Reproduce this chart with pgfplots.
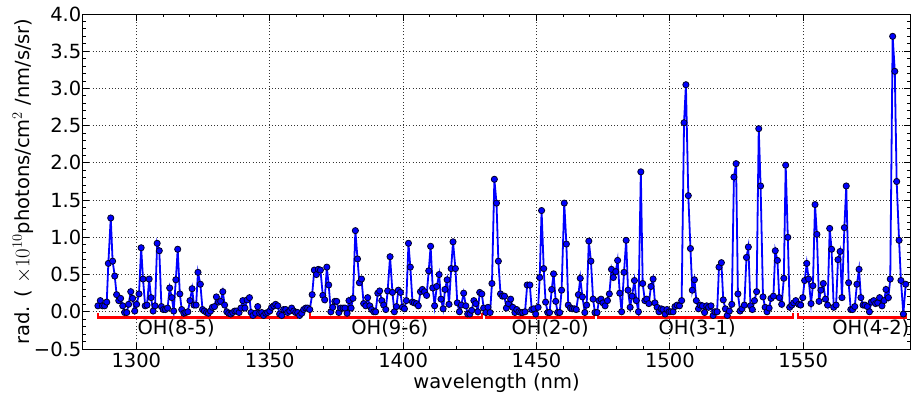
\documentclass[border=0pt]{standalone}
\usepackage{fontspec}
\setmainfont{DejaVu Sans}
\usepackage{pgfplots}
\pgfplotsset{compat=1.18}
\newcommand{\fs}{\fontsize{19.5}{23}\selectfont}
\begin{document}
\begin{tikzpicture}
\useasboundingbox (-83pt,-45pt) rectangle (828pt,349pt);
\begin{axis}[
  at={(0,0)}, anchor=south west,
  scale only axis, width=827pt, height=335pt,
  xmin=1280, xmax=1590, ymin=-0.5, ymax=4,
  xtick={1300,1350,1400,1450,1500,1550},
  xticklabels={1300,1350,1400,1450,1500,1550},
  ytick={-0.5,0,0.5,1,1.5,2,2.5,3,3.5,4},
  yticklabels={−0.5,0.0,0.5,1.0,1.5,2.0,2.5,3.0,3.5,4.0},
  minor x tick num=4, minor y tick num=4,
  tick align=inside,
  major tick length=6.5pt, minor tick length=3.3pt,
  tick style={black, line width=0.9pt},
  axis line style={black, line width=1pt},
  grid=major,
  major grid style={black!80, line width=1pt, dash pattern=on 1pt off 2.2pt},
  tick label style={font=\fs},
  xticklabel style={inner ysep=0pt, yshift=-3.4pt},
  yticklabel style={inner xsep=0pt, xshift=-1.5pt},
  xlabel={wavelength (nm)},
  xlabel style={font=\fs, at={(axis description cs:0.5,0)}, anchor=base, yshift=-39pt},
  ylabel={rad. ( $\times10^{10}$photons/cm$^{2}$ /nm/s/sr)},
  ylabel style={font=\fs, at={(axis description cs:-0.0647,0.5)}, anchor=base},
]
\addplot[color=blue, line width=1.8pt, mark=*, mark size=3.1pt,
  mark options={fill=blue, draw=black!85!blue, line width=0.8pt}] table {
x y
1285.6 0.08
1286.5 0.15
1287.3 0.08
1288.1 0.08
1288.9 0.13
1289.5 0.65
1290.4 1.26
1291.1 0.68
1291.9 0.48
1292.6 0.23
1293.4 0.15
1294.1 0.18
1294.9 0.08
1295.6 -0.01
1296.4 -0.01
1297.1 0.10
1297.9 0.27
1298.6 0.18
1299.4 0.01
1300.1 0.10
1301.0 0.24
1301.8 0.86
1302.5 0.44
1303.3 0.08
1304.0 0.09
1304.8 0.44
1305.5 0.19
1306.3 0.01
1307.0 0.08
1307.8 0.92
1308.6 0.82
1309.4 0.07
1310.1 0.03
1310.9 0.03
1311.7 0.05
1312.5 0.32
1313.3 0.19
1314.0 0.01
1314.8 0.43
1315.5 0.84
1316.3 0.24
1317.0 0.03
1317.8 -0.02
1318.5 -0.01
1319.3 0.00
1320.1 0.15
1320.9 0.31
1321.6 0.09
1322.4 0.09
1323.1 0.53
1324.0 0.37
1324.8 0.03
1325.5 0.01
1326.3 -0.01
1327.0 -0.02
1327.8 0.01
1328.5 0.06
1329.3 0.07
1330.0 0.20
1330.8 0.13
1331.6 0.14
1332.4 0.27
1333.1 0.09
1333.9 0.00
1334.6 -0.02
1335.4 -0.03
1336.1 -0.01
1336.9 0.01
1337.6 0.01
1338.5 -0.01
1339.2 0.05
1339.9 0.15
1340.7 0.05
1341.5 0.16
1342.4 0.19
1343.0 -0.01
1343.7 -0.05
1344.7 -0.02
1345.5 0.07
1346.2 -0.02
1347.0 -0.01
1347.7 -0.05
1348.5 -0.02
1349.2 -0.01
1350.0 0.01
1350.7 0.06
1351.5 0.08
1352.2 0.10
1353.0 0.08
1353.7 -0.03
1354.5 -0.05
1355.2 0.03
1356.0 0.03
1356.7 -0.01
1357.5 0.01
1358.2 0.05
1359.0 0.01
1359.7 -0.01
1360.5 -0.01
1361.2 -0.05
1362.0 -0.02
1362.7 0.03
1363.5 0.05
1364.2 0.05
1365.0 0.03
1365.9 0.23
1366.7 0.56
1367.5 0.50
1368.2 0.57
1369.0 0.56
1369.9 0.22
1370.6 0.16
1371.4 0.60
1372.1 0.36
1372.9 0.00
1373.6 0.06
1374.4 0.14
1375.1 0.14
1375.9 -0.01
1376.6 0.05
1377.5 0.05
1378.2 0.05
1379.0 -0.02
1379.7 0.15
1380.5 0.05
1381.2 0.18
1382.1 1.09
1382.9 0.71
1383.6 0.39
1384.4 0.44
1385.2 0.11
1386.0 0.08
1386.7 0.19
1387.5 0.08
1388.2 0.03
1389.0 0.00
1389.7 0.00
1390.5 0.25
1391.2 0.28
1392.0 0.15
1392.7 0.09
1393.5 0.03
1394.2 0.28
1395.1 0.74
1396.0 0.26
1396.7 0.00
1397.5 0.07
1398.2 0.29
1399.0 0.26
1399.7 0.06
1400.5 0.04
1401.2 0.15
1402.0 0.92
1402.7 0.60
1403.5 0.13
1404.2 0.12
1405.0 0.11
1405.7 0.08
1406.5 0.27
1407.2 0.30
1408.0 0.27
1408.8 0.22
1409.6 0.55
1410.3 0.88
1411.1 0.32
1411.8 0.08
1412.6 0.34
1413.5 0.50
1414.2 0.17
1415.0 0.04
1415.7 0.30
1416.5 0.43
1417.2 0.10
1418.0 0.58
1418.7 0.94
1419.6 0.58
1420.3 0.12
1421.1 0.00
1421.8 0.09
1422.7 0.25
1423.5 0.08
1424.2 -0.03
1425.0 -0.03
1425.7 0.02
1426.5 0.15
1427.2 0.11
1428.0 0.00
1428.7 0.26
1429.5 0.24
1430.2 0.05
1431.0 -0.01
1431.8 0.06
1432.6 -0.01
1433.3 0.38
1434.2 1.78
1435.0 1.46
1435.7 0.68
1436.5 0.24
1437.2 0.21
1438.0 0.21
1438.7 0.05
1439.5 0.11
1440.3 0.17
1441.1 0.06
1441.9 -0.01
1442.6 0.03
1443.4 0.00
1444.1 -0.01
1444.8 -0.01
1445.7 0.00
1446.5 0.36
1447.5 0.36
1448.2 0.03
1449.0 0.04
1449.7 -0.03
1450.6 0.06
1451.2 0.46
1451.9 1.36
1452.7 0.58
1453.4 0.13
1454.2 -0.01
1454.9 -0.01
1455.7 0.30
1456.4 0.51
1457.2 0.14
1457.9 -0.01
1458.7 -0.01
1459.4 0.29
1460.4 1.46
1461.2 0.91
1461.9 0.09
1462.7 0.05
1463.4 0.04
1464.2 0.04
1464.9 0.03
1465.7 0.23
1466.4 0.45
1467.2 0.20
1468.1 -0.01
1468.8 0.09
1469.6 0.95
1470.4 0.68
1471.2 0.17
1471.9 -0.01
1472.7 -0.01
1473.4 0.15
1474.2 0.17
1474.9 0.12
1475.7 0.08
1476.6 0.15
1477.3 0.24
1478.1 0.57
1478.8 0.46
1479.7 0.54
1480.4 0.69
1481.2 0.25
1481.9 0.00
1482.8 0.53
1483.6 0.96
1484.3 0.29
1485.1 0.06
1485.8 0.21
1486.7 0.42
1487.4 0.15
1488.2 0.00
1489.1 1.88
1489.8 0.38
1490.6 0.15
1491.3 0.17
1492.1 0.11
1492.9 0.34
1493.7 0.44
1494.4 0.12
1495.2 0.06
1495.9 0.00
1496.7 0.04
1497.4 0.03
1498.2 -0.03
1498.9 0.03
1499.7 0.00
1500.4 0.00
1501.2 0.00
1501.9 0.07
1502.7 0.09
1503.6 0.08
1504.4 0.15
1505.3 2.54
1506.0 3.05
1506.9 1.56
1507.7 0.85
1508.4 0.29
1509.2 0.43
1509.9 0.15
1510.7 0.04
1511.4 0.09
1512.2 0.08
1513.0 -0.01
1513.8 0.08
1514.5 0.06
1515.4 0.08
1516.2 -0.05
1516.9 0.00
1517.7 0.00
1518.4 0.60
1519.3 0.66
1520.0 0.16
1520.8 0.04
1521.5 -0.05
1522.3 0.01
1523.2 0.10
1524.0 1.81
1524.8 1.99
1525.5 0.24
1526.3 0.01
1527.0 0.04
1527.9 0.09
1528.7 0.73
1529.4 0.87
1530.2 0.08
1530.9 0.03
1531.7 0.15
1532.5 0.27
1533.3 2.46
1534.0 1.69
1534.9 0.20
1535.7 0.06
1536.4 0.00
1537.2 0.05
1537.9 0.18
1538.8 0.21
1539.5 0.82
1540.3 0.69
1541.0 0.19
1541.9 0.10
1542.7 0.45
1543.4 1.97
1544.2 1.00
1544.9 0.06
1545.7 0.09
1546.4 0.12
1547.2 0.15
1548.3 0.10
1549.0 0.09
1549.8 0.19
1550.5 0.42
1551.3 0.65
1552.0 0.44
1552.9 0.11
1553.6 0.35
1554.4 1.44
1555.1 1.04
1555.9 0.14
1556.6 0.29
1557.5 0.38
1558.3 0.17
1559.1 0.09
1559.9 1.12
1560.6 0.84
1561.4 0.06
1562.3 0.09
1563.0 0.70
1563.8 0.81
1564.5 0.19
1565.4 1.13
1566.1 1.69
1567.0 0.39
1567.8 0.03
1568.5 0.03
1569.3 0.07
1570.1 0.37
1570.9 0.57
1571.6 0.19
1572.4 0.09
1573.1 0.09
1574.0 0.07
1574.8 0.00
1575.5 0.13
1576.4 0.15
1577.1 0.11
1577.9 0.12
1578.6 0.19
1579.5 0.08
1580.3 0.15
1581.0 0.30
1581.9 0.19
1582.6 0.44
1583.5 3.70
1584.3 3.23
1585.0 1.75
1585.9 0.96
1586.6 0.42
1587.5 -0.03
1588.4 0.37
};
\addplot[red, line width=2.4pt, no marks, line cap=butt, forget plot] coordinates {(1285.6,-0.022) (1285.6,-0.077) (1360.2,-0.077) (1360.2,-0.022)};
\addplot[red, line width=2.4pt, no marks, line cap=butt, forget plot] coordinates {(1365.0,-0.022) (1365.0,-0.077) (1429.6,-0.077) (1429.6,-0.022)};
\addplot[red, line width=2.4pt, no marks, line cap=butt, forget plot] coordinates {(1431.1,-0.022) (1431.1,-0.077) (1471.5,-0.077) (1471.5,-0.022)};
\addplot[red, line width=2.4pt, no marks, line cap=butt, forget plot] coordinates {(1473.1,-0.022) (1473.1,-0.077) (1546.1,-0.077) (1546.1,-0.022)};
\addplot[red, line width=2.4pt, no marks, line cap=butt, forget plot] coordinates {(1548.1,-0.022) (1548.1,-0.077) (1588.4,-0.077) (1588.4,-0.022)};
\node[font=\fs, anchor=base] at (axis cs:1314.9,-0.308) {OH(8-5)};
\node[font=\fs, anchor=base] at (axis cs:1395.0,-0.308) {OH(9-6)};
\node[font=\fs, anchor=base] at (axis cs:1455.1,-0.308) {OH(2-0)};
\node[font=\fs, anchor=base] at (axis cs:1510.2,-0.308) {OH(3-1)};
\node[font=\fs, anchor=base] at (axis cs:1575.3,-0.308) {OH(4-2)};
\end{axis}
\end{tikzpicture}
\end{document}
